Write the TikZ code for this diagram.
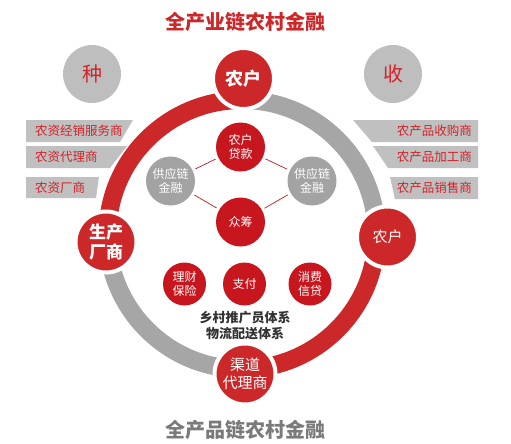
\documentclass[tikz,border=0pt]{standalone}
\usepackage{fontspec}
\setmainfont{Noto Sans CJK SC}
\definecolor{ored}{RGB}{204,40,42}
\definecolor{ired}{RGB}{200,22,30}
\definecolor{rgray}{RGB}{166,166,166}
\definecolor{cgray}{RGB}{190,190,190}
\definecolor{igray}{RGB}{163,163,163}
\definecolor{bgray}{RGB}{192,192,192}
\definecolor{tred}{RGB}{212,34,42}
\definecolor{dtext}{RGB}{51,51,51}
\definecolor{ttgray}{RGB}{122,122,122}
\tikzset{
  outer/.style={circle,fill=ored,draw=white,line width=4pt,minimum size=61pt,inner sep=0pt,text=white,align=center},
  inred/.style={circle,fill=ired,minimum size=49pt,inner sep=0pt,text=white,align=center,font=\fontsize{12}{14}\selectfont},
  ingray/.style={circle,fill=igray,minimum size=49pt,inner sep=0pt,text=white,align=center,font=\fontsize{12}{14}\selectfont},
  smred/.style={circle,fill=ired,minimum size=43pt,inner sep=0pt,text=white,align=center,font=\fontsize{12}{14}\selectfont},
  sidec/.style={circle,fill=cgray,minimum size=58pt,inner sep=0pt,text=tred,font=\fontsize{20}{22}\selectfont},
  banner/.style={fill=bgray},
  btext/.style={text=tred,font=\fontsize{12.5}{14}\selectfont,inner sep=0pt},
  link/.style={ired,line width=0.7pt,shorten >=3pt,shorten <=3pt},
  ringseg/.style={line width=18pt}
}
\begin{document}
\begin{tikzpicture}[x=1pt,y=-1pt]
\useasboundingbox (0,0) rectangle (511,444);
% titles
\node[text=ored,font=\bfseries\fontsize{20}{22}\selectfont] (t1) at (245,22) {全产业链农村金融};
\node[text=ttgray,font=\bfseries\fontsize{20}{22}\selectfont] (t2) at (245,430) {全产品链农村金融};
% ring
\coordinate (c) at (242,234.5);
\draw[ringseg,ored] (c) ++(180:134.5) arc[start angle=180,end angle=270,radius=134.5];
\draw[ringseg,rgray] (c) ++(270:134.5) arc[start angle=270,end angle=360,radius=134.5];
\draw[ringseg,ored] (c) ++(0:134.5) arc[start angle=0,end angle=90,radius=134.5];
\draw[ringseg,rgray] (c) ++(90:134.5) arc[start angle=90,end angle=180,radius=134.5];
% banners left
\fill[banner] (26,120) -- (133,120) -- (120,142) -- (26,142) -- cycle;
\fill[banner] (26,146) -- (127,146) -- (110,168) -- (26,168) -- cycle;
\fill[banner] (26,177) -- (99,177) -- (96,198) -- (26,198) -- cycle;
\node[btext,anchor=west] (bl1) at (35,131) {农资经销服务商};
\node[btext,anchor=west] (bl2) at (35,157) {农资代理商};
\node[btext,anchor=west] (bl3) at (35,187.5) {农资厂商};
% banners right
\fill[banner] (353,120) -- (478,120) -- (478,142) -- (372,142) -- cycle;
\fill[banner] (373,146) -- (478,146) -- (478,168) -- (388,168) -- cycle;
\fill[banner] (390,177) -- (478,177) -- (478,199) -- (395,199) -- cycle;
\node[btext,anchor=east] (br1) at (472,131) {农产品收购商};
\node[btext,anchor=east] (br2) at (472,157) {农产品加工商};
\node[btext,anchor=east] (br3) at (472,188) {农产品销售商};
% side circles
\node[sidec] (zhong) at (92,74) {种};
\node[sidec] (shou) at (393,74) {收};
% outer nodes
\node[outer,font=\bfseries\fontsize{18}{20}\selectfont] (top) at (243.5,78.5) {农户};
\node[outer,font=\bfseries\fontsize{17}{20}\selectfont] (left) at (106,242) {生产\\厂商};
\node[outer,font=\fontsize{15}{17}\selectfont] (right) at (387.5,237) {农户};
\node[outer,font=\fontsize{15}{18}\selectfont] (bottom) at (245,374) {渠道\\代理商};
% inner nodes
\node[inred] (loan) at (240.5,147) {农户\\贷款};
\node[ingray] (scl) at (170.5,181) {供应链\\金融};
\node[ingray] (scr) at (312,181) {供应链\\金融};
\node[inred] (crowd) at (240.5,222) {众筹};
\node[smred] (fin) at (184.5,284) {理财\\保险};
\node[smred] (pay) at (244.5,284) {支付};
\node[smred] (cons) at (310,284) {消费\\信贷};
\draw[link] (loan) -- (scl);
\draw[link] (loan) -- (scr);
\draw[link] (scl) -- (crowd);
\draw[link] (scr) -- (crowd);
% system text
\node[text=dtext,font=\bfseries\fontsize{13}{15.5}\selectfont,align=center] (sys) at (245,325.5) {乡村推广员体系\\物流配送体系};
\end{tikzpicture}
\end{document}
